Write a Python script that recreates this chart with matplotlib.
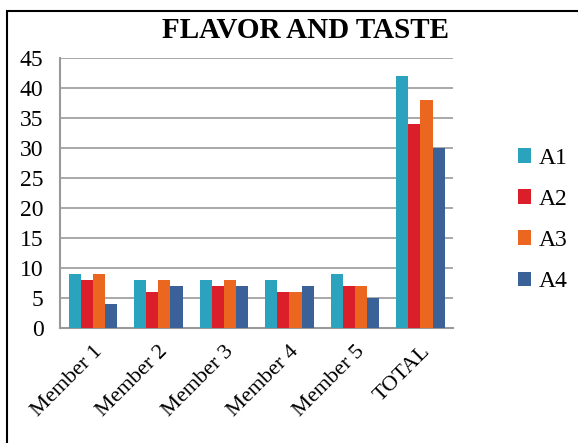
import numpy as np
import matplotlib.pyplot as plt
from matplotlib.patches import Rectangle

# Datos
categorias = ['Member 1', 'Member 2', 'Member 3', 'Member 4', 'Member 5', 'TOTAL']
series = ['A1', 'A2', 'A3', 'A4']
a1 = [9, 8, 8, 8, 9, 42]
a2 = [8, 6, 7, 6, 7, 34]
a3 = [9, 8, 8, 6, 7, 38]
a4 = [4, 7, 7, 7, 5, 30]
colores = ['#2BA3BF', '#DA1F2B', '#EB6720', '#3A6299']

plt.rcParams['font.family'] = ['Liberation Serif', 'DejaVu Serif']

fig = plt.figure(figsize=(5.78, 4.43), dpi=100)
ax = fig.add_axes([0.104, 0.26, 0.68, 0.609])

x = np.arange(len(categorias))
ancho = 0.185
valores = [a1, a2, a3, a4]
for i, (vals, col, nombre) in enumerate(zip(valores, colores, series)):
    ax.bar(x + (i - 1.5) * ancho, vals, width=ancho, color=col, label=nombre, zorder=3)

ax.set_ylim(0, 45)
ax.set_yticks(range(0, 46, 5))
ax.set_xlim(-0.5, len(categorias) - 0.5)
ax.set_xticks(x)
ax.set_xticklabels(categorias, rotation=45, ha='right', rotation_mode='anchor', fontsize=16)
ax.tick_params(axis='y', length=0, labelsize=17, pad=12)
ax.tick_params(axis='x', length=0, pad=10)
ax.grid(axis='y', color='#999999', linewidth=1.2, zorder=0)
for s in ['top', 'right']:
    ax.spines[s].set_visible(False)
for s in ['left', 'bottom']:
    ax.spines[s].set_color('#999999')
    ax.spines[s].set_linewidth(1.5)

fig.text(0.528, 0.932, 'FLAVOR AND TASTE', ha='center', va='center',
         fontsize=21, fontweight='bold')

ax.legend(loc='center left', bbox_to_anchor=(1.14, 0.40), frameon=False,
          fontsize=17, handlelength=0.55, handleheight=0.55, handletextpad=0.35,
          labelspacing=0.85, borderaxespad=0)

# marco exterior
fig.patches.append(Rectangle((7 / 578, -0.05), 1.1, 1 - 11 / 443 + 0.05,
                             transform=fig.transFigure, fill=False,
                             edgecolor='black', linewidth=1.5))

plt.savefig('out.png', dpi=100)
